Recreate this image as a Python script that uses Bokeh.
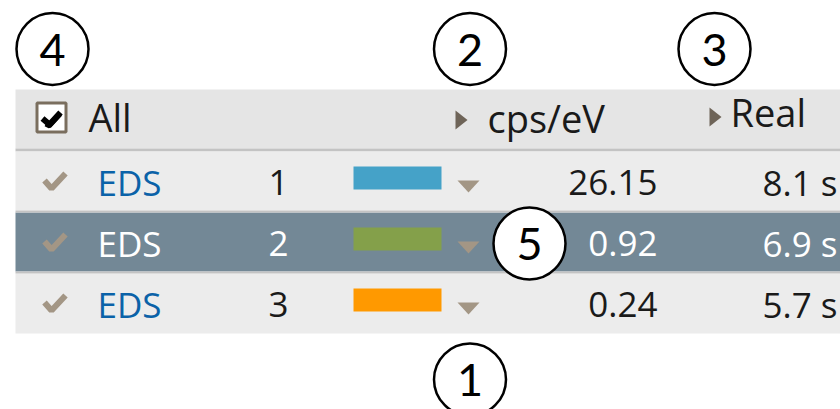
from bokeh.plotting import figure
from bokeh.models import Range1d, ColumnDataSource
from bokeh.core.properties import value
from bokeh.embed import file_html
from bokeh.resources import INLINE

# ---- data ----
detectors = ["EDS", "EDS", "EDS"]
ids = ["1", "2", "3"]
series_colors = ["#45a2c8", "#84a04a", "#ff9900"]
cps = [26.15, 0.92, 0.24]
real_time = [8.1, 6.9, 5.7]
selected = [False, True, False]
header_all = "All"
header_cols = ["cps/eV", "Real"]
callout_labels = ["1", "2", "3", "4", "5"]
callout_x = [469.5, 469.5, 714, 52, 529]
callout_y = [379, 48.5, 48.5, 48.5, 243]

# ---- layout constants (page pixels) ----
X0, X1, Y0, Y1 = 0, 840, 0, 409
TABLE_L = 15
HEAD_T, HEAD_B = 89, 148
ROW_T0, ROW_PITCH, ROW_H = 151, 61, 59
FONT = value("Open Sans")
FS = "35px"
HFS = "38px"
TXT_SHIFT = 12      # baseline correction for 35px text
HTXT_SHIFT = 13     # baseline correction for 38px text
NUM_SHIFT = 16      # baseline correction for 45px callout digits

p = figure(width=X1 - X0, height=Y1 - Y0, output_backend="svg", toolbar_location=None,
           x_range=Range1d(X0, X1), y_range=Range1d(Y1, Y0), min_border=0)
p.axis.visible = False
p.grid.visible = False
p.outline_line_color = None
p.background_fill_color = "white"
p.border_fill_color = "white"

n = len(detectors)
row_tops = [ROW_T0 + i * ROW_PITCH for i in range(n)]
row_bots = [t + ROW_H for t in row_tops]
row_bots[-1] = row_tops[-1] + ROW_H + 1

# header background
p.quad(left=[TABLE_L], right=[X1], top=[HEAD_T], bottom=[HEAD_B], fill_color="#e5e5e5", line_color=None)
# header separator
p.quad(left=[TABLE_L], right=[X1], top=[HEAD_B], bottom=[ROW_T0], fill_color="#c3c3c3", line_color=None)
# rows
row_fill = ["#738896" if s else "#ececec" for s in selected]
p.quad(left=[TABLE_L] * n, right=[X1] * n, top=row_tops, bottom=row_bots, fill_color=row_fill, line_color=None)
# row separators
p.quad(left=[TABLE_L] * (n - 1), right=[X1] * (n - 1), top=row_bots[:-1],
       bottom=row_tops[1:], fill_color="#c3c3c3", line_color=None)

# header checkbox
p.quad(left=[36.5], right=[65.5], top=[102.5], bottom=[131.5], fill_color="white",
       line_color="#7a6e5e", line_width=3)
p.line(x=[42, 49, 60], y=[118, 124, 112], line_color="black", line_width=6)
p.line(x=[45, 49, 60], y=[124, 126, 114], line_color="black", line_width=4)

# header texts
p.text(x=[88], y=[129 - HTXT_SHIFT], text=[header_all], text_font=FONT, text_font_size=HFS,
       text_color="#1a1a1a", text_baseline="alphabetic")
p.text(x=[487, 730], y=[130 - HTXT_SHIFT, 124 - HTXT_SHIFT], text=header_cols, text_font=FONT,
       text_font_size=HFS, text_color="#1a1a1a", text_baseline="alphabetic")
# header sort triangles
p.patches(xs=[[455, 455, 467], [709, 709, 721]], ys=[[110, 129, 119.5], [107, 126, 116.5]],
          fill_color="#6e6458", line_color=None)

# row check marks
chk_xs = [[44, 51, 65] for _ in range(n)]
chk_ys = [[t + 29, t + 37, t + 22] for t in row_tops]
p.multi_line(xs=chk_xs, ys=chk_ys, line_color="#a39685", line_width=6)

text_col = ["white" if s else "#1a1a1a" for s in selected]
det_col = ["white" if s else "#0b62a8" for s in selected]
base = [t + 43 - TXT_SHIFT for t in row_tops]

src = ColumnDataSource(dict(
    det=detectors, ids=ids, cps=[f"{v:.2f}" for v in cps],
    real=[f"{v:.1f} s" for v in real_time], base=base,
    tc=text_col, dc=det_col))

p.text(x=97, y="base", text="det", source=src, text_font=FONT, text_font_size=FS,
       text_color="dc", text_baseline="alphabetic")
p.text(x=278, y="base", text="ids", source=src, text_font=FONT, text_font_size=FS,
       text_color="tc", text_baseline="alphabetic", text_align="center")
p.text(x=657, y="base", text="cps", source=src, text_font=FONT, text_font_size=FS,
       text_color="tc", text_baseline="alphabetic", text_align="right")
p.text(x=837, y="base", text="real", source=src, text_font=FONT, text_font_size=FS,
       text_color="tc", text_baseline="alphabetic", text_align="right")

# colour swatches
p.quad(left=[353] * n, right=[441] * n, top=[t + 15 for t in row_tops],
       bottom=[t + 38 for t in row_tops], fill_color=series_colors, line_color=None)
# dropdown triangles
p.patches(xs=[[457, 479, 468] for _ in range(n)], ys=[[t + 29, t + 29, t + 41] for t in row_tops],
          fill_color="#a39685", line_color=None)

# callout circles
p.circle(x=callout_x, y=callout_y, radius=36, fill_color="white", line_color="black", line_width=2.5)
p.text(x=callout_x, y=[y + 16.5 - NUM_SHIFT for y in callout_y], text=callout_labels,
       text_font=value("Lato"), text_font_size="45px", text_color="black",
       text_align="center", text_baseline="alphabetic")

open("out.html", "w").write(file_html(p, INLINE))
